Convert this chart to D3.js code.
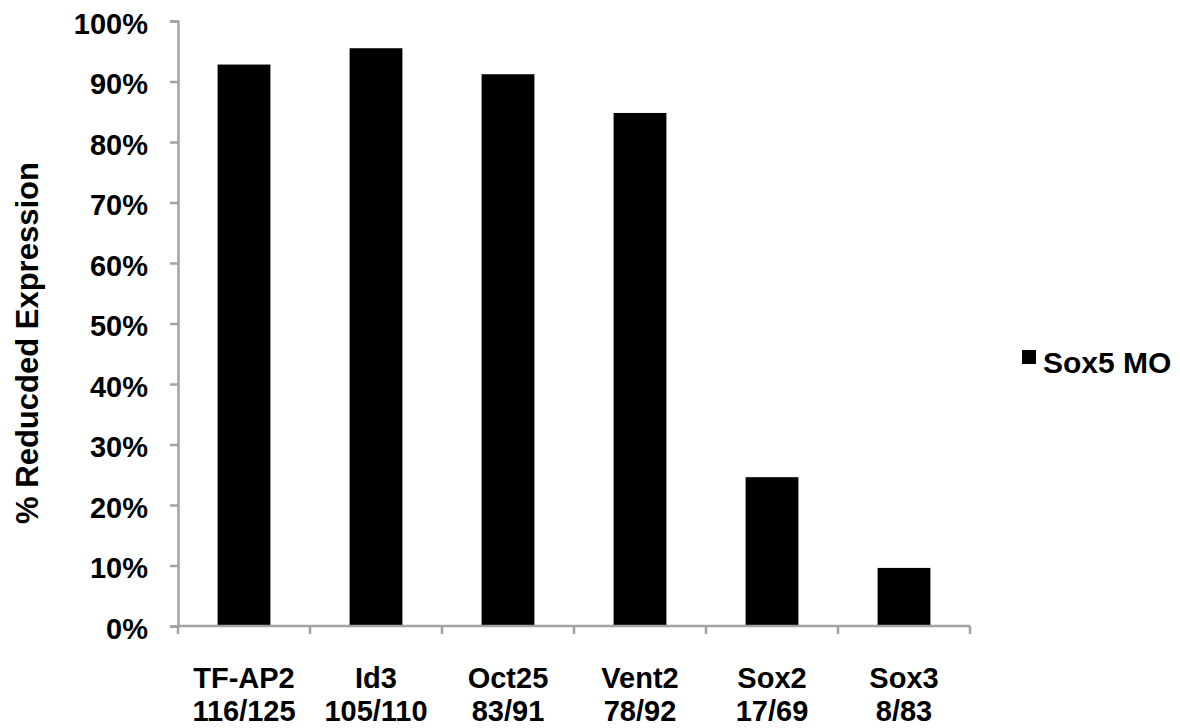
<!DOCTYPE html>
<html>
<head>
<meta charset="utf-8">
<script src="https://cdn.jsdelivr.net/npm/d3@7/dist/d3.min.js"></script>
<style>
  html, body { margin: 0; padding: 0; background: #fff; }
  svg text { font-family: "Liberation Sans", Arial, Helvetica, sans-serif; font-weight: bold; fill: #000; }
</style>
</head>
<body>
<svg id="chart" width="1180" height="728"></svg>
<script>
const categories = ["TF-AP2", "Id3", "Oct25", "Vent2", "Sox2", "Sox3"];
const counts = ["116/125", "105/110", "83/91", "78/92", "17/69", "8/83"];
const values = [92.8, 95.5, 91.2, 84.8, 24.6, 9.6];
const yTicks = [0, 10, 20, 30, 40, 50, 60, 70, 80, 90, 100];
const seriesName = "Sox5 MO";
const yTitle = "% Reducded Expression";

const svg = d3.select("#chart");
const x0 = 178, x1 = 970, yBottom = 626, yTop = 21;

const x = d3.scaleBand().domain(categories).range([x0, x1]).paddingInner(0.6).paddingOuter(0.3);
const y = d3.scaleLinear().domain([0, 100]).range([yBottom, yTop]);

const axisColor = "#a3a3a3";

// bars
svg.append("g").selectAll("rect").data(values).join("rect")
  .attr("x", (d, i) => x(categories[i]))
  .attr("y", d => y(d))
  .attr("width", x.bandwidth())
  .attr("height", d => y(0) - y(d))
  .attr("fill", "#000");

// y axis
const yAxis = d3.axisLeft(y).tickValues(yTicks).tickFormat(d => d + "%").tickSize(8).tickPadding(22);
const gy = svg.append("g").attr("transform", `translate(${x0},0)`).call(yAxis);
gy.select(".domain").attr("stroke", axisColor).attr("stroke-width", 2.5);
gy.selectAll(".tick line").attr("stroke", axisColor).attr("stroke-width", 2.5);
gy.selectAll(".tick text").attr("font-size", 29).attr("font-family", null).attr("dy", "0.42em");

// x axis
const xStep = x.step();
const boundaries = d3.range(categories.length + 1).map(i => x0 + i * xStep);
svg.append("line").attr("x1", x0).attr("x2", x1).attr("y1", yBottom).attr("y2", yBottom)
  .attr("stroke", axisColor).attr("stroke-width", 2.5);
svg.append("g").selectAll("line").data(boundaries).join("line")
  .attr("x1", d => d).attr("x2", d => d).attr("y1", yBottom).attr("y2", yBottom + 8)
  .attr("stroke", axisColor).attr("stroke-width", 2.5);

const labels = svg.append("g").selectAll("text").data(categories).join("text")
  .attr("x", d => x(d) + x.bandwidth() / 2)
  .attr("text-anchor", "middle")
  .attr("font-size", 29);
labels.append("tspan").attr("x", d => x(d) + x.bandwidth() / 2).attr("y", 688).text(d => d);
labels.append("tspan").attr("x", d => x(d) + x.bandwidth() / 2).attr("y", 721).text((d, i) => counts[i]);

// y title
svg.append("text")
  .attr("transform", "translate(38,343) rotate(-90)")
  .attr("text-anchor", "middle")
  .attr("font-size", 31)
  .text(yTitle);

// legend
const lg = svg.append("g");
lg.append("rect").attr("x", 1022).attr("y", 350).attr("width", 14).attr("height", 14).attr("fill", "#000");
lg.append("text").attr("x", 1043).attr("y", 373).attr("font-size", 30).text(seriesName);
</script>
</body>
</html>
